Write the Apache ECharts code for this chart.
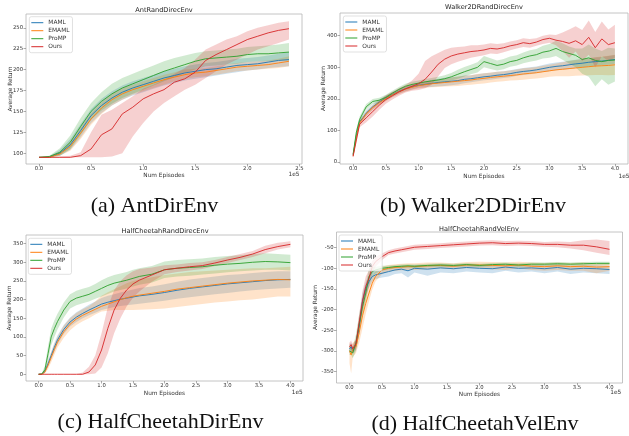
<!DOCTYPE html>
<html><head><meta charset="utf-8">
<script src="https://cdn.jsdelivr.net/npm/echarts@6/dist/echarts.min.js"></script>
<style>html,body{margin:0;padding:0;background:#fff}#c{width:629px;height:436px}</style>
</head><body><div id="c"></div>
<script>
// ---------- names, ticks ----------
const seriesNames = ['MAML', 'EMAML', 'ProMP', 'Ours'];
const seriesColors = ['#1f77b4', '#ff7f0e', '#2ca02c', '#d62728'];
const panelTitles = ['AntRandDirecEnv', 'Walker2DRandDirecEnv', 'HalfCheetahRandDirecEnv', 'HalfCheetahRandVelEnv'];
const captions = ['(a) AntDirEnv', '(b) Walker2DDirEnv', '(c) HalfCheetahDirEnv', '(d) HalfCheetahVelEnv'];
const xTicksAnt = [0, 0.5, 1.0, 1.5, 2.0, 2.5];
const xTicks4 = [0, 0.5, 1.0, 1.5, 2.0, 2.5, 3.0, 3.5, 4.0];
const yTicksAnt = [100, 125, 150, 175, 200, 225, 250];
const yTicksWalker = [0, 100, 200, 300, 400];
const yTicksDir = [0, 50, 100, 150, 200, 250, 300, 350];
const yTicksVel = [-350, -300, -250, -200, -150, -100, -50];

// ---------- (a) AntRandDirecEnv (x in 1e5 episodes) ----------
const antX = [0,0.1,0.2,0.3,0.4,0.5,0.6,0.7,0.8,0.9,1.0,1.1,1.2,1.3,1.4,1.5,1.6,1.7,1.8,1.9,2.0,2.1,2.2,2.3,2.4];
const antMAML   = [95,95,100,110,127,145,157,166,173,178,182,186,190,193,196,198,200,201,203,205,206,207,209,211,212];
const antMAMLLo = [95,95,97,104,119,136,148,157,164,169,173,177,181,184,187,189,191,193,195,197,199,200,202,203,204];
const antMAMLHi = [95,96,104,117,135,153,165,174,181,186,190,194,198,201,204,206,208,209,211,213,214,215,217,219,221];
const antEMAML   = [95,95,99,108,124,141,154,164,171,176,180,184,188,191,194,196,197,199,201,203,204,205,206,208,210];
const antEMAMLLo = [95,95,97,103,117,134,147,157,164,170,174,178,182,186,189,191,192,194,196,198,199,200,201,202,204];
const antEMAMLHi = [95,96,102,114,131,148,161,171,178,182,186,190,194,197,200,201,202,204,206,208,209,210,211,213,216];
const antProMP   = [95,96,101,113,132,150,162,171,178,183,188,193,198,202,206,210,213,214,215,216,218,219,219,220,221];
const antProMPLo = [95,95,97,105,122,140,151,159,166,171,176,181,186,191,196,200,204,205,206,207,209,210,210,211,211];
const antProMPHi = [95,97,106,121,142,160,173,183,190,195,200,205,210,214,217,220,222,223,224,225,227,228,229,230,232];
const antOurs   = [95,95,95,95,97,105,122,129,147,155,165,171,176,185,189,197,211,218,224,230,236,240,244,247,249];
const antOursLo = [95,95,95,95,95,95,95,96,100,120,136,150,160,168,176,182,190,198,206,212,218,224,228,232,236];
const antOursHi = [95,95,96,97,101,125,146,152,160,168,177,182,188,195,202,212,224,230,236,240,246,250,253,256,258];

// ---------- (b) Walker2DRandDirecEnv ----------
const walkerX = [0,0.05,0.1,0.15,0.2,0.3,0.4,0.5,0.6,0.7,0.8,0.9,1.0,1.1,1.2,1.3,1.4,1.5,1.6,1.7,1.8,1.9,2.0,2.1,2.2,2.3,2.4,2.5,2.6,2.7,2.8,2.9,3.0,3.1,3.2,3.3,3.4,3.5,3.6,3.7,3.8,3.9,4.0];
const walkerMAML   = [22,85,128,140,155, 175,190,203,214,224,232,238, 243,246,249,252,254,256,258,262,264,267, 270,272,275,277,280,284,287,289,292,296, 300,303,305,308,311,313,316,318,320,322,325];
const walkerMAMLLo = [18,78,120,132,147, 167,182,195,206,216,224,230, 235,237,238,240,241,243,246,250,253,256, 259,261,264,266,269,273,276,278,281,285, 288,291,292,295,298,300,303,305,307,308,311];
const walkerMAMLHi = [26,92,136,148,163, 183,198,211,222,232,240,246, 251,255,260,264,267,269,270,274,275,278, 281,283,286,288,291,295,298,300,303,307, 312,315,318,321,324,326,329,331,333,336,339];
const walkerEMAML   = [20,80,125,138,153, 173,188,201,213,223,231,237, 242,245,248,250,252,254,256,258,260,263, 265,268,270,272,274,276,279,281,283,286, 289,292,294,296,298,300,302,304,305,306,308];
const walkerEMAMLLo = [16,72,116,130,145, 165,180,193,205,215,223,229, 233,235,237,238,239,240,241,243,245,247, 249,252,254,256,258,259,261,263,265,267, 270,272,272,272,273,274,275,276,276,275,276];
const walkerEMAMLHi = [24,88,134,146,161, 181,196,209,221,231,239,245, 251,255,259,262,265,268,271,273,275,279, 281,284,286,288,290,293,297,299,301,305, 308,312,316,320,323,326,329,332,334,337,340];
const walkerProMP   = [25,95,135,155,175, 192,196,205,218,230,240,246, 250,254,257,260,264,270,278,286,293,300, 318,312,306,310,318,322,330,336,340,348, 352,360,350,344,338,325,330,322,318,322,323];
const walkerProMPLo = [20,86,126,146,166, 184,188,197,210,222,232,238, 242,245,248,250,253,258,264,271,278,284, 300,295,290,294,302,306,313,318,322,328, 330,336,324,312,300,280,270,240,262,245,255];
const walkerProMPHi = [30,104,144,164,184, 200,204,213,226,238,248,254, 258,263,266,270,275,282,292,301,308,316, 336,329,322,326,334,338,347,354,358,368, 374,384,376,366,360,360,372,360,352,362,360];
const walkerOurs   = [18,70,120,130,140, 160,180,198,210,222,232,240, 248,262,285,310,326,336,342,346,350,352, 355,360,358,362,368,372,378,375,380,388, 392,386,382,376,384,372,395,362,390,372,378];
const walkerOursLo = [14,62,110,118,126, 144,166,185,198,210,220,226, 228,234,245,272,298,310,318,324,330,334, 338,344,342,348,354,360,364,362,368,374, 378,370,352,330,350,320,340,300,335,320,330];
const walkerOursHi = [22,78,130,142,154, 176,194,211,222,234,244,258, 280,320,335,345,356,362,364,366,370,370, 372,376,374,376,382,386,392,390,392,400, 404,402,410,420,430,418,448,412,445,420,435];

// ---------- (c) HalfCheetahRandDirecEnv ----------
const dirX = [0,0.05,0.1,0.15,0.2,0.25,0.3, 0.4,0.5,0.6,0.7,0.8,0.9,1.0,1.1,1.2,1.3,1.4,1.5,1.6, 1.8,2.0,2.2,2.4,2.6,2.8,3.0,3.2,3.4,3.6,3.8,4.0];
const dirMAML   = [0,0,8,28,50,72,92, 120,140,153,163,172,180,188,193,197,201,204,207,210, 214,219,225,230,234,238,242,245,248,251,253,254];
const dirMAMLLo = [0,0,4,20,40,60,80, 108,128,140,150,158,165,172,176,180,183,185,187,189, 193,197,202,206,210,214,218,222,225,228,230,232];
const dirMAMLHi = [0,0,12,36,60,84,104, 132,152,166,176,186,195,204,210,214,219,223,227,231, 235,241,248,254,258,262,266,268,271,274,276,276];
const dirEMAML   = [0,0,6,24,45,66,86, 114,134,148,158,166,174,182,188,194,200,205,209,212, 217,222,228,232,236,240,244,247,250,252,254,253];
const dirEMAMLLo = [0,0,2,14,32,52,72, 98,118,132,142,150,160,168,170,172,172,172,172,173, 174,176,180,184,188,192,195,198,200,204,208,208];
const dirEMAMLHi = [0,0,10,34,58,80,100, 130,150,164,174,182,195,210,220,228,236,244,250,254, 260,266,270,274,276,278,280,282,284,284,286,288];
const dirProMP   = [0,1,12,55,100,122,141, 172,195,204,209,214,222,230,238,244,248,252,257,262, 268,280,284,286,288,292,295,297,300,302,301,299];
const dirProMPLo = [0,0,4,35,78,100,120, 152,176,185,190,195,202,208,215,222,226,230,235,240, 246,258,262,264,267,270,273,276,278,280,280,278];
const dirProMPHi = [0,3,22,75,122,144,162, 192,214,224,229,234,242,252,260,266,270,274,280,284, 290,302,306,308,310,314,317,319,322,324,322,320];
const dirOurs   = [0,0,0,0,0,0,0, 0,0,0,0,6,25,65,123,172,204,226,242,252, 266,280,284,288,291,298,306,313,322,334,342,348];
const dirOursLo = [0,0,0,0,0,0,0, 0,0,0,0,0,2,18,56,110,150,182,205,222, 248,268,274,278,282,290,298,306,314,324,334,340];
const dirOursHi = [0,0,0,0,0,0,0, 0,0,1,5,20,50,110,180,225,250,265,276,282, 286,292,294,298,300,306,314,322,330,344,352,356];

// ---------- (d) HalfCheetahRandVelEnv ----------
const velX = [0,0.025,0.05,0.1,0.15,0.2,0.25,0.3,0.35,0.4, 0.5,0.6,0.7,0.8,0.9,1.0, 1.2,1.4,1.6,1.8,2.0,2.2,2.4,2.6,2.8,3.0,3.2,3.4,3.6,3.8,4.0];
const velMAML   = [-295,-290,-300,-285,-240,-180,-150,-132,-120,-116, -112,-108,-104,-102,-106,-100, -102,-99,-101,-98,-100,-101,-97,-100,-99,-101,-98,-102,-100,-101,-103];
const velMAMLLo = [-305,-300,-308,-298,-258,-200,-166,-146,-132,-126, -122,-120,-114,-112,-122,-110, -118,-110,-112,-108,-110,-112,-106,-110,-108,-112,-108,-114,-110,-112,-114];
const velMAMLHi = [-285,-280,-292,-272,-222,-160,-134,-118,-108,-106, -102,-98,-96,-94,-94,-92, -92,-90,-92,-90,-92,-92,-90,-92,-92,-92,-90,-94,-92,-92,-94];
const velEMAML   = [-300,-310,-295,-290,-255,-215,-185,-160,-136,-120, -104,-100,-98,-97,-96,-96, -94,-93,-95,-92,-92,-93,-94,-92,-95,-96,-94,-96,-95,-97,-96];
const velEMAMLLo = [-330,-355,-315,-305,-280,-245,-210,-180,-152,-132, -114,-108,-106,-105,-104,-104, -102,-100,-102,-100,-100,-102,-104,-100,-104,-106,-104,-106,-106,-112,-106];
const velEMAMLHi = [-280,-290,-280,-275,-232,-188,-162,-140,-120,-108, -96,-92,-90,-89,-88,-88, -86,-86,-88,-85,-84,-85,-86,-84,-86,-87,-86,-87,-86,-88,-87];
const velProMP   = [-300,-298,-305,-280,-235,-193,-160,-120,-108,-104, -100,-98,-96,-95,-94,-95, -93,-92,-93,-91,-93,-91,-90,-92,-90,-90,-89,-90,-89,-88,-88];
const velProMPLo = [-310,-310,-318,-300,-260,-215,-180,-140,-120,-112, -106,-103,-100,-99,-98,-99, -97,-96,-97,-95,-97,-95,-94,-96,-94,-94,-93,-94,-93,-92,-92];
const velProMPHi = [-290,-286,-292,-260,-210,-170,-140,-100,-96,-96, -94,-93,-92,-91,-90,-91, -89,-88,-89,-87,-89,-87,-86,-88,-86,-86,-85,-86,-85,-84,-84];
const velOurs   = [-290,-285,-295,-283,-230,-180,-144,-124,-96,-84, -72,-62,-58,-55,-52,-49, -47,-45,-43,-41,-39,-38,-40,-39,-40,-42,-42,-44,-44,-48,-54];
const velOursLo = [-300,-295,-305,-295,-250,-205,-170,-145,-112,-96, -80,-68,-64,-61,-58,-55, -53,-51,-49,-47,-45,-44,-46,-45,-46,-48,-49,-52,-56,-62,-68];
const velOursHi = [-280,-275,-285,-270,-210,-155,-120,-104,-82,-72, -64,-56,-52,-49,-46,-43, -41,-39,-37,-35,-33,-32,-34,-33,-34,-36,-35,-36,-32,-30,-34];

// ---------- assemble ----------
const panels = [
  { x: antX, mean: [antMAML, antEMAML, antProMP, antOurs], lo: [antMAMLLo, antEMAMLLo, antProMPLo, antOursLo], hi: [antMAMLHi, antEMAMLHi, antProMPHi, antOursHi],
    xTicks: xTicksAnt, yTicks: yTicksAnt, xMin: -0.125, xMax: 2.525, yMin: 87, yMax: 266.6,
    grid: { left: 26, top: 14, width: 276, height: 150 }, titleX: 164, titleY: 7, legend: [29.3, 16.7],
    yNameGap: 13, xNameGap: 8, e5: [294, 174.5], cap: [154.5, 206.5] },
  { x: walkerX, mean: [walkerMAML, walkerEMAML, walkerProMP, walkerOurs], lo: [walkerMAMLLo, walkerEMAMLLo, walkerProMPLo, walkerOursLo], hi: [walkerMAMLHi, walkerEMAMLHi, walkerProMPHi, walkerOursHi],
    xTicks: xTicks4, yTicks: yTicksWalker, xMin: -0.2, xMax: 4.2, yMin: -6, yMax: 472,
    grid: { left: 340, top: 13, width: 288, height: 151 }, titleX: 484, titleY: 4, legend: [343.3, 16],
    yNameGap: 14, xNameGap: 9.5, e5: [624, 176.5], cap: [473, 206.5] },
  { x: dirX, mean: [dirMAML, dirEMAML, dirProMP, dirOurs], lo: [dirMAMLLo, dirEMAMLLo, dirProMPLo, dirOursLo], hi: [dirMAMLHi, dirEMAMLHi, dirProMPHi, dirOursHi],
    xTicks: xTicks4, yTicks: yTicksDir, xMin: -0.2, xMax: 4.2, yMin: -18, yMax: 373,
    grid: { left: 26, top: 235, width: 277, height: 146 }, titleX: 165, titleY: 228, legend: [28.3, 238.3],
    yNameGap: 14, xNameGap: 9, e5: [297.3, 392.2], cap: [160.5, 422] },
  { x: velX, mean: [velMAML, velEMAML, velProMP, velOurs], lo: [velMAMLLo, velEMAMLLo, velProMPLo, velOursLo], hi: [velMAMLHi, velEMAMLHi, velProMPHi, velOursHi],
    xTicks: xTicks4, yTicks: yTicksVel, xMin: -0.2, xMax: 4.2, yMin: -378, yMax: -12,
    grid: { left: 336.5, top: 232, width: 286, height: 151 }, titleX: 479, titleY: 225.5, legend: [339, 235],
    yNameGap: 18, xNameGap: 8, e5: [615.7, 392.5], cap: [475, 424] }
];

const FONT = 'DejaVu Sans';
const TXT = '#333';
function rgba(hex, a) {
  const n = parseInt(hex.slice(1), 16);
  return 'rgba(' + (n >> 16 & 255) + ',' + (n >> 8 & 255) + ',' + (n & 255) + ',' + a + ')';
}

const grids = [], xAxes = [], yAxes = [], series = [], titles = [], legends = [], graphics = [];
panels.forEach((p, g) => {
  grids.push(Object.assign({ show: true, borderColor: '#b5b5b5', borderWidth: 0.8, backgroundColor: '#fff', outerBoundsMode: 'none' }, p.grid));
  xAxes.push({
    gridIndex: g, type: 'value', min: p.xMin, max: p.xMax,
    axisLine: { show: false, onZero: false }, splitLine: { show: false },
    axisTick: { show: true, customValues: p.xTicks, length: 2.5, lineStyle: { color: '#777', width: 0.6 } },
    axisLabel: { customValues: p.xTicks, formatter: v => v.toFixed(1), fontSize: 5.3, color: TXT, fontFamily: FONT, margin: 2.5 },
    name: 'Num Episodes', nameLocation: 'middle', nameGap: p.xNameGap, nameMoveOverlap: false,
    nameTextStyle: { fontSize: 5.8, color: TXT, fontFamily: FONT }
  });
  yAxes.push({
    gridIndex: g, type: 'value', min: p.yMin, max: p.yMax,
    axisLine: { show: false, onZero: false }, splitLine: { show: false },
    axisTick: { show: true, customValues: p.yTicks, length: 2.5, lineStyle: { color: '#777', width: 0.6 } },
    axisLabel: { customValues: p.yTicks, fontSize: 5.3, color: TXT, fontFamily: FONT, margin: 3 },
    name: 'Average Return', nameLocation: 'middle', nameGap: p.yNameGap, nameMoveOverlap: false,
    nameTextStyle: { fontSize: 5.8, color: TXT, fontFamily: FONT }
  });
  titles.push({
    text: panelTitles[g], left: p.titleX, top: p.titleY, textAlign: 'center', padding: 0,
    textStyle: { fontSize: 6.6, fontWeight: 'normal', color: '#222', fontFamily: FONT }
  });
  legends.push({
    data: seriesNames, orient: 'vertical', left: p.legend[0], top: p.legend[1],
    icon: 'rect', itemWidth: 12, itemHeight: 1, itemGap: 0, padding: [2, 3, 2, 2],
    backgroundColor: 'rgba(255,255,255,0.8)', borderColor: '#cccccc', borderWidth: 0.6, borderRadius: 2,
    textStyle: { fontSize: 5.9, color: TXT, fontFamily: FONT, lineHeight: 8 },
    selectedMode: false
  });
  const n = p.x.length;
  seriesNames.forEach((s, k) => {
    const xs = p.x, los = p.lo[k], his = p.hi[k];
    series.push({
      type: 'line', name: s, xAxisIndex: g, yAxisIndex: g,
      data: xs.map((v, i) => [v, p.mean[k][i]]), symbol: 'none',
      lineStyle: { color: seriesColors[k], width: 1, opacity: 0.9 }, itemStyle: { color: seriesColors[k] }
    });
    series.push({
      type: 'custom', name: s + ' band', xAxisIndex: g, yAxisIndex: g, silent: true,
      data: xs.map((v, i) => [v, los[i], his[i]]),
      encode: { x: 0, y: [1, 2] },
      renderItem: (params, api) => {
        if (params.dataIndex !== 0) return null;
        const up = [], dn = [];
        for (let i = 0; i < n; i++) {
          up.push(api.coord([xs[i], his[i]]));
          dn.push(api.coord([xs[i], los[i]]));
        }
        return { type: 'polygon', shape: { points: up.concat(dn.reverse()) },
                 style: { fill: rgba(seriesColors[k], 0.22), stroke: null } };
      }
    });
  });
  graphics.push({ type: 'text', x: p.e5[0], y: p.e5[1],
    style: { text: '1e5', fontSize: 5.8, fill: TXT, fontFamily: FONT, textAlign: 'center', textVerticalAlign: 'middle' } });
  graphics.push({ type: 'text', x: p.cap[0], y: p.cap[1],
    style: { text: captions[g], fontSize: 22, fill: '#111', fontFamily: 'Liberation Serif', textAlign: 'center', textVerticalAlign: 'middle' } });
});

const chart = echarts.init(document.getElementById('c'), null, { renderer: 'canvas' });
chart.setOption({
  animation: false,
  backgroundColor: '#fff',
  title: titles, legend: legends, grid: grids, xAxis: xAxes, yAxis: yAxes, series: series,
  graphic: { elements: graphics }
});
</script>
</body></html>
